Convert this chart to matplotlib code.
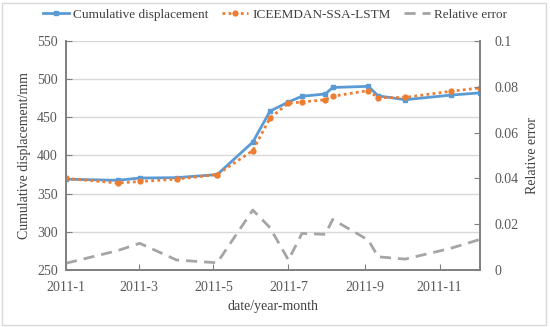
import pandas as pd
import matplotlib
matplotlib.use('Agg')
import matplotlib.pyplot as plt

# data
dates = ['2011-01-01', '2011-02-12', '2011-03-02', '2011-04-01', '2011-05-04',
         '2011-06-02', '2011-06-16', '2011-07-01', '2011-07-12', '2011-07-31',
         '2011-08-06', '2011-09-04', '2011-09-12', '2011-10-04', '2011-11-10',
         '2011-12-04']
cumulative = [369, 367.5, 370.5, 371, 375, 417.5, 458, 470, 477.5, 480.5,
              489, 490.5, 478, 473, 479, 482]
predicted = [370, 364, 366, 369, 375, 406.5, 449, 468.5, 470, 473,
             477.5, 485, 475.5, 476, 484, 488.5]
rel_error = [0.003, 0.0085, 0.0117, 0.0044, 0.0032, 0.0262, 0.0185, 0.0044,
             0.016, 0.0156, 0.0221, 0.0131, 0.0058, 0.0048, 0.0095, 0.0134]
tick_dates = ['2011-01-01', '2011-03-01', '2011-05-01', '2011-07-01',
              '2011-09-01', '2011-11-01']
tick_labels = ['2011-1', '2011-3', '2011-5', '2011-7', '2011-9', '2011-11']

x = pd.to_datetime(dates)

plt.rcParams['font.family'] = ['Liberation Serif', 'DejaVu Serif']
plt.rcParams['font.size'] = 10
txt = '#404040'
axc = '#7f7f7f'

fig = plt.figure(figsize=(5.5, 3.27), dpi=100)
fig.patches.append(plt.Rectangle((0.003, 0.006), 0.99, 0.985, transform=fig.transFigure,
                                 fill=False, edgecolor='#d9d9d9', linewidth=1))
ax = fig.add_axes([0.12, 0.174, 0.753, 0.701])
ax2 = ax.twinx()

l1, = ax.plot(x, cumulative, color='#5b9bd5', linewidth=2, marker='s', markersize=3.5,
              label='Cumulative displacement', zorder=3)
l2, = ax.plot(x, predicted, color='#ed7d31', linewidth=2, linestyle=(0, (1, 1.2)),
              marker='o', markersize=3.5, label='ICEEMDAN-SSA-LSTM', zorder=4)
l3, = ax2.plot(x, rel_error, color='#a5a5a5', linewidth=2, linestyle=(0, (4, 2.5)),
               label='Relative error')

ax.set_ylim(250, 550)
ax.set_yticks(range(250, 551, 50))
ax2.set_ylim(0, 0.1)
ax2.set_yticks([0, 0.02, 0.04, 0.06, 0.08, 0.1])
ax2.set_yticklabels(['0', '0.02', '0.04', '0.06', '0.08', '0.1'])
ax.set_xlim(pd.Timestamp('2011-01-01'), pd.Timestamp('2011-12-04'))
ax.set_xticks(pd.to_datetime(tick_dates))
ax.set_xticklabels(tick_labels)

ax.grid(axis='y', color='#d9d9d9', linewidth=1)
ax.set_axisbelow(True)
for a in (ax, ax2):
    a.spines['top'].set_visible(False)
    for s in ('left', 'right', 'bottom'):
        a.spines[s].set_color(axc)
        a.spines[s].set_linewidth(1.2)
    a.tick_params(direction='in', length=4, color=axc, labelcolor='#595959', labelsize=10)
ax.tick_params(axis='y', pad=6)
ax2.tick_params(axis='y', pad=10)
ax.tick_params(axis='x', pad=8)

ax.set_xlabel('date/year-month', color=txt, fontsize=10, labelpad=4)
ax.set_ylabel('Cumulative displacement/mm', color=txt, fontsize=10, labelpad=4)
ax2.set_ylabel('Relative error', color=txt, fontsize=10, labelpad=6)

fig.legend(handles=[l1, l2, l3], loc='center', bbox_to_anchor=(0.5, 0.955), ncol=3,
           frameon=False, fontsize=9.5, handlelength=2.0, columnspacing=1.0,
           handletextpad=0.3, labelcolor=txt)

fig.savefig('out.png', dpi=100)
